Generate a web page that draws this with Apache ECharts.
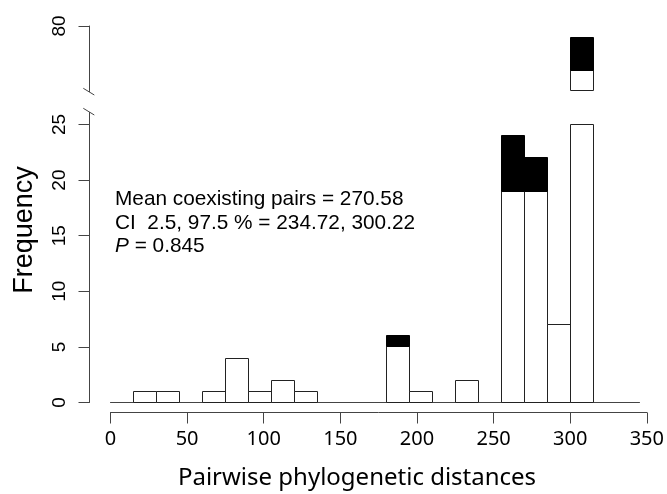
<!DOCTYPE html>
<html>
<head>
<meta charset="utf-8">
<script src="https://cdn.jsdelivr.net/npm/echarts@6/dist/echarts.min.js"></script>
<style>
  html, body { margin: 0; padding: 0; background: #fff; }
  #chart { width: 667px; height: 494px; }
</style>
</head>
<body>
<div id="chart"></div>
<script>
// Histogram bins (start of each 15-unit bin)
const binStarts = [0, 15, 30, 45, 60, 75, 90, 105, 120, 135, 150, 165, 180, 195, 210, 225, 240, 255, 270, 285, 300, 315, 330];
// White part of each bar (non-coexisting pairs)
const nonCoexisting = [0, 1, 1, 0, 1, 4, 1, 2, 1, 0, 0, 0, 5, 1, 0, 2, 0, 19, 19, 7, 76, 0, 0];
// Black part of each bar (coexisting pairs)
const coexisting = [0, 0, 0, 0, 0, 0, 0, 0, 0, 0, 0, 0, 1, 0, 0, 0, 0, 5, 3, 0, 3, 0, 0];
// Tick labels
const lowerYTicks = [0, 5, 10, 15, 20, 25];
const upperYTicks = [80];
const xTickMax = 350, xTickStep = 50;
const annotation = ['Mean coexisting pairs = 270.58', 'CI  2.5, 97.5 % = 234.72, 300.22', '= 0.845'];

const binWidth = binStarts[1] - binStarts[0];
const histMax = binStarts[binStarts.length - 1] + binWidth;
const histData = binStarts.map((s, i) => [s, nonCoexisting[i], coexisting[i]]);

const axisColor = '#444';
const numFont = 'Liberation Sans';
const xFont = 'Noto Sans';

const chart = echarts.init(document.getElementById('chart'), null, { renderer: 'canvas' });

function snap(v) { return Math.round(v - 0.5) + 0.5; }

// Draw a stacked histogram bar (white part, then black part), clamped to the panel
function renderHist(params, api) {
  const cs = params.coordSys;
  const x0 = api.value(0), w = api.value(1), b = api.value(2);
  const left = snap(api.coord([x0, 0])[0]);
  const right = snap(api.coord([x0 + binWidth, 0])[0]);
  const csTop = cs.y, csBot = cs.y + cs.height;
  const children = [];
  function seg(v0, v1, style) {
    if (v1 <= v0) return;
    let yA = api.coord([x0, v1])[1];
    let yB = api.coord([x0, v0])[1];
    yA = Math.max(yA, csTop);
    yB = Math.min(yB, csBot);
    if (yB - yA <= 0) return;
    const t = snap(yA), bt = snap(yB);
    children.push({ type: 'rect', shape: { x: left, y: t, width: right - left, height: bt - t }, style: style });
  }
  seg(0, w, { fill: '#fff', stroke: '#222', lineWidth: 1 });
  seg(w, w + b, { fill: '#000', stroke: '#000', lineWidth: 1 });
  return { type: 'group', children: children };
}

const yAxisCommon = {
  type: 'value', offset: 21,
  axisLine: { show: true, onZero: false, lineStyle: { color: axisColor, width: 1 } },
  splitLine: { show: false }
};

const option = {
  animation: false,
  backgroundColor: '#fff',
  grid: [
    { left: 110.5, width: 529, top: 26, height: 64.5 },
    { left: 110.5, width: 529, top: 124.5, height: 278 },
    { left: 110.5, width: 536.67, top: 411.5, height: 1 }
  ],
  xAxis: [
    { gridIndex: 0, type: 'value', min: 0, max: histMax, show: false },
    { gridIndex: 1, type: 'value', min: 0, max: histMax,
      axisLine: { show: true, onZero: false, lineStyle: { color: axisColor, width: 1 } },
      axisTick: { show: false }, axisLabel: { show: false }, splitLine: { show: false } },
    { gridIndex: 2, type: 'value', min: 0, max: xTickMax, interval: xTickStep, position: 'bottom',
      axisLine: { show: true, onZero: false, lineStyle: { color: axisColor, width: 1 } },
      axisTick: { show: true, length: 11, lineStyle: { color: axisColor } },
      axisLabel: { show: true, margin: 17, fontSize: 20, fontFamily: xFont, color: '#000' },
      splitLine: { show: false } }
  ],
  yAxis: [
    Object.assign({}, yAxisCommon, { gridIndex: 0, min: 74.2, max: 80,
      axisTick: { show: true, length: 11, customValues: upperYTicks, lineStyle: { color: axisColor } },
      axisLabel: { show: true, customValues: upperYTicks, rotate: 90, margin: 20, fontSize: 19, fontFamily: numFont, color: '#000' } }),
    Object.assign({}, yAxisCommon, { gridIndex: 1, min: 0, max: 25,
      axisTick: { show: true, length: 11, customValues: lowerYTicks, lineStyle: { color: axisColor } },
      axisLabel: { show: true, customValues: lowerYTicks, rotate: 90, margin: 20, fontSize: 19, fontFamily: numFont, color: '#000' } }),
    { gridIndex: 2, type: 'value', min: 0, max: 1, show: false }
  ],
  series: [
    { name: 'Pairs (lower panel)', type: 'custom', xAxisIndex: 1, yAxisIndex: 1,
      data: histData, encode: { x: 0, y: 1 }, renderItem: renderHist, silent: true },
    { name: 'Pairs (upper panel)', type: 'custom', xAxisIndex: 0, yAxisIndex: 0,
      data: histData, encode: { x: 0, y: 1 }, renderItem: renderHist, silent: true }
  ],
  graphic: [
    // axis break marks
    { type: 'line', silent: true, shape: { x1: 89.5, y1: 124.5, x2: 89.5, y2: 112 }, style: { stroke: axisColor, lineWidth: 1 } },
    { type: 'line', silent: true, shape: { x1: 83.3, y1: 108.3, x2: 94.3, y2: 115 }, style: { stroke: axisColor, lineWidth: 1 } },
    { type: 'line', silent: true, shape: { x1: 89.5, y1: 90.5, x2: 89.5, y2: 92 }, style: { stroke: axisColor, lineWidth: 1 } },
    { type: 'line', silent: true, shape: { x1: 83.3, y1: 88.3, x2: 94.3, y2: 95 }, style: { stroke: axisColor, lineWidth: 1 } },
    // titles
    { type: 'text', silent: true, x: 25, y: 230, rotation: Math.PI / 2,
      style: { text: 'Frequency', fontSize: 27, fontFamily: numFont, fill: '#000', align: 'center', verticalAlign: 'middle' } },
    { type: 'text', silent: true, x: 357, y: 478,
      style: { text: 'Pairwise phylogenetic distances', fontSize: 24, fontFamily: xFont, fill: '#000', align: 'center', verticalAlign: 'middle' } },
    // annotation
    { type: 'text', silent: true, x: 115, y: 199,
      style: { text: annotation[0], fontSize: 20.8, fontFamily: numFont, fill: '#000', align: 'left', verticalAlign: 'middle' } },
    { type: 'text', silent: true, x: 115, y: 223,
      style: { text: annotation[1], fontSize: 20.8, fontFamily: numFont, fill: '#000', align: 'left', verticalAlign: 'middle' } },
    { type: 'text', silent: true, x: 115, y: 246.5,
      style: { text: '{i|P} ' + annotation[2], fontSize: 20.8, fontFamily: numFont, fill: '#000', align: 'left', verticalAlign: 'middle',
        rich: { i: { fontStyle: 'italic', fontSize: 20.8, fontFamily: numFont, fill: '#000' } } } }
  ]
};

chart.setOption(option);
</script>
</body>
</html>
